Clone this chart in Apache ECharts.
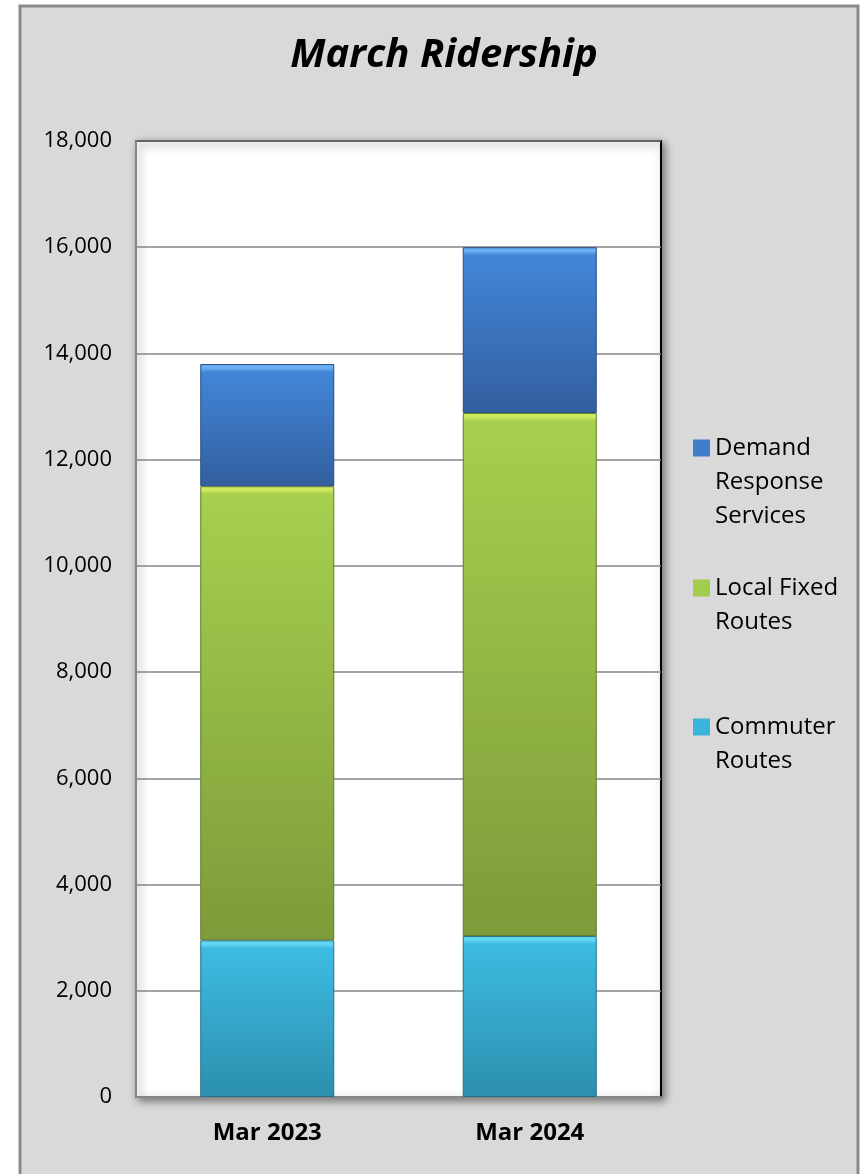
<!DOCTYPE html>
<html>
<head>
<meta charset="utf-8">
<script src="https://cdn.jsdelivr.net/npm/echarts@6/dist/echarts.min.js"></script>
<style>
html,body{margin:0;padding:0;background:#fff;}
#chart{width:862px;height:1174px;}
</style>
</head>
<body>
<div id="chart"></div>
<script>
const categories = ['Mar 2023', 'Mar 2024'];
const commuterRoutes = [2950, 3030];
const localFixedRoutes = [8550, 9850];
const demandResponse = [2300, 3120];
const seriesNames = ['Commuter Routes', 'Local Fixed Routes', 'Demand Response Services'];
const legendLabels = {
  'Demand Response Services': 'Demand\nResponse\nServices',
  'Local Fixed Routes': 'Local Fixed\nRoutes',
  'Commuter Routes': 'Commuter\nRoutes'
};
const yMin = 0, yMax = 18000, yInterval = 2000;

const FONT = '"Open Sans", "Noto Sans", sans-serif';
const PLOT_H = 956;
const BEVEL_PX = 8;

function grad(value, light, top, bottom) {
  const h = value / (yMax - yMin) * PLOT_H;
  const s = Math.min(0.3, BEVEL_PX / h);
  return new echarts.graphic.LinearGradient(0, 0, 0, 1, [
    {offset: 0, color: light},
    {offset: s * 0.5, color: light},
    {offset: s, color: top},
    {offset: 1, color: bottom}
  ]);
}

function styled(values, light, top, bottom, border) {
  return values.map(v => ({
    value: v,
    itemStyle: {color: grad(v, light, top, bottom), borderColor: border, borderWidth: 1}
  }));
}

const chart = echarts.init(document.getElementById('chart'), null, {renderer: 'canvas'});

function legendFor(name, iconCenter) {
  const lines = legendLabels[name].split('\n');
  const padded = new Array(lines.length - 1).fill('').concat(lines).join('\n');
  const total = lines.length * 2 - 1;
  return {
    data: [{name: name, icon: 'rect'}],
    left: 693,
    top: iconCenter - total * 34 / 2,
    padding: 0,
    orient: 'vertical',
    itemWidth: 17,
    itemHeight: 17,
    selectedMode: false,
    formatter: () => padded,
    textStyle: {
      fontFamily: FONT,
      fontSize: 24,
      color: '#000',
      lineHeight: 34
    }
  };
}

const option = {
  backgroundColor: '#ffffff',
  animation: false,
  graphic: [{
    type: 'rect',
    z: -100,
    silent: true,
    shape: {x: 20, y: 6, width: 838, height: 1200},
    style: {fill: '#d9d9d9', stroke: '#898989', lineWidth: 3}
  }],
  title: {
    text: 'March Ridership',
    left: 439,
    top: 31,
    textAlign: 'center',
    textStyle: {
      fontFamily: FONT,
      fontSize: 40,
      fontStyle: 'italic',
      fontWeight: 'bold',
      color: '#000'
    }
  },
  legend: [
    legendFor('Demand Response Services', 448),
    legendFor('Local Fixed Routes', 588),
    legendFor('Commuter Routes', 727)
  ],
  grid: {
    show: true,
    left: 136,
    right: 201,
    top: 141,
    bottom: 77,
    backgroundColor: '#ffffff',
    borderColor: '#000',
    borderWidth: 2,
    shadowColor: 'rgba(0,0,0,0.45)',
    shadowBlur: 8,
    shadowOffsetX: 3,
    shadowOffsetY: 3
  },
  xAxis: {
    type: 'category',
    data: categories,
    axisLine: {show: true, lineStyle: {color: '#868686', width: 2}},
    axisTick: {show: false},
    axisLabel: {
      margin: 24,
      fontFamily: FONT,
      fontSize: 24,
      fontWeight: 'bold',
      color: '#000'
    }
  },
  yAxis: {
    type: 'value',
    min: yMin,
    max: yMax,
    interval: yInterval,
    axisLine: {show: true, lineStyle: {color: '#868686', width: 2}},
    axisTick: {show: false},
    splitLine: {lineStyle: {color: '#868686', width: 1.5}},
    axisLabel: {
      margin: 24,
      fontFamily: FONT,
      fontSize: 22,
      color: '#000'
    }
  },
  series: [
    {
      name: seriesNames[0],
      type: 'bar',
      stack: 'total',
      barWidth: 134,
      data: styled(commuterRoutes, '#63d6f4', '#3dbbe2', '#2c8fae', '#236f87'),
      itemStyle: {color: '#3ab4db'}
    },
    {
      name: seriesNames[1],
      type: 'bar',
      stack: 'total',
      barWidth: 134,
      data: styled(localFixedRoutes, '#cfe95f', '#a6d04e', '#7d9b3a', '#5f7a2c'),
      itemStyle: {color: '#a4cc4c'}
    },
    {
      name: seriesNames[2],
      type: 'bar',
      stack: 'total',
      barWidth: 134,
      data: styled(demandResponse, '#6aaef0', '#4286d8', '#325f9f', '#254c80'),
      itemStyle: {color: '#3d7dcc'}
    }
  ]
};

chart.setOption(option);
</script>
</body>
</html>
